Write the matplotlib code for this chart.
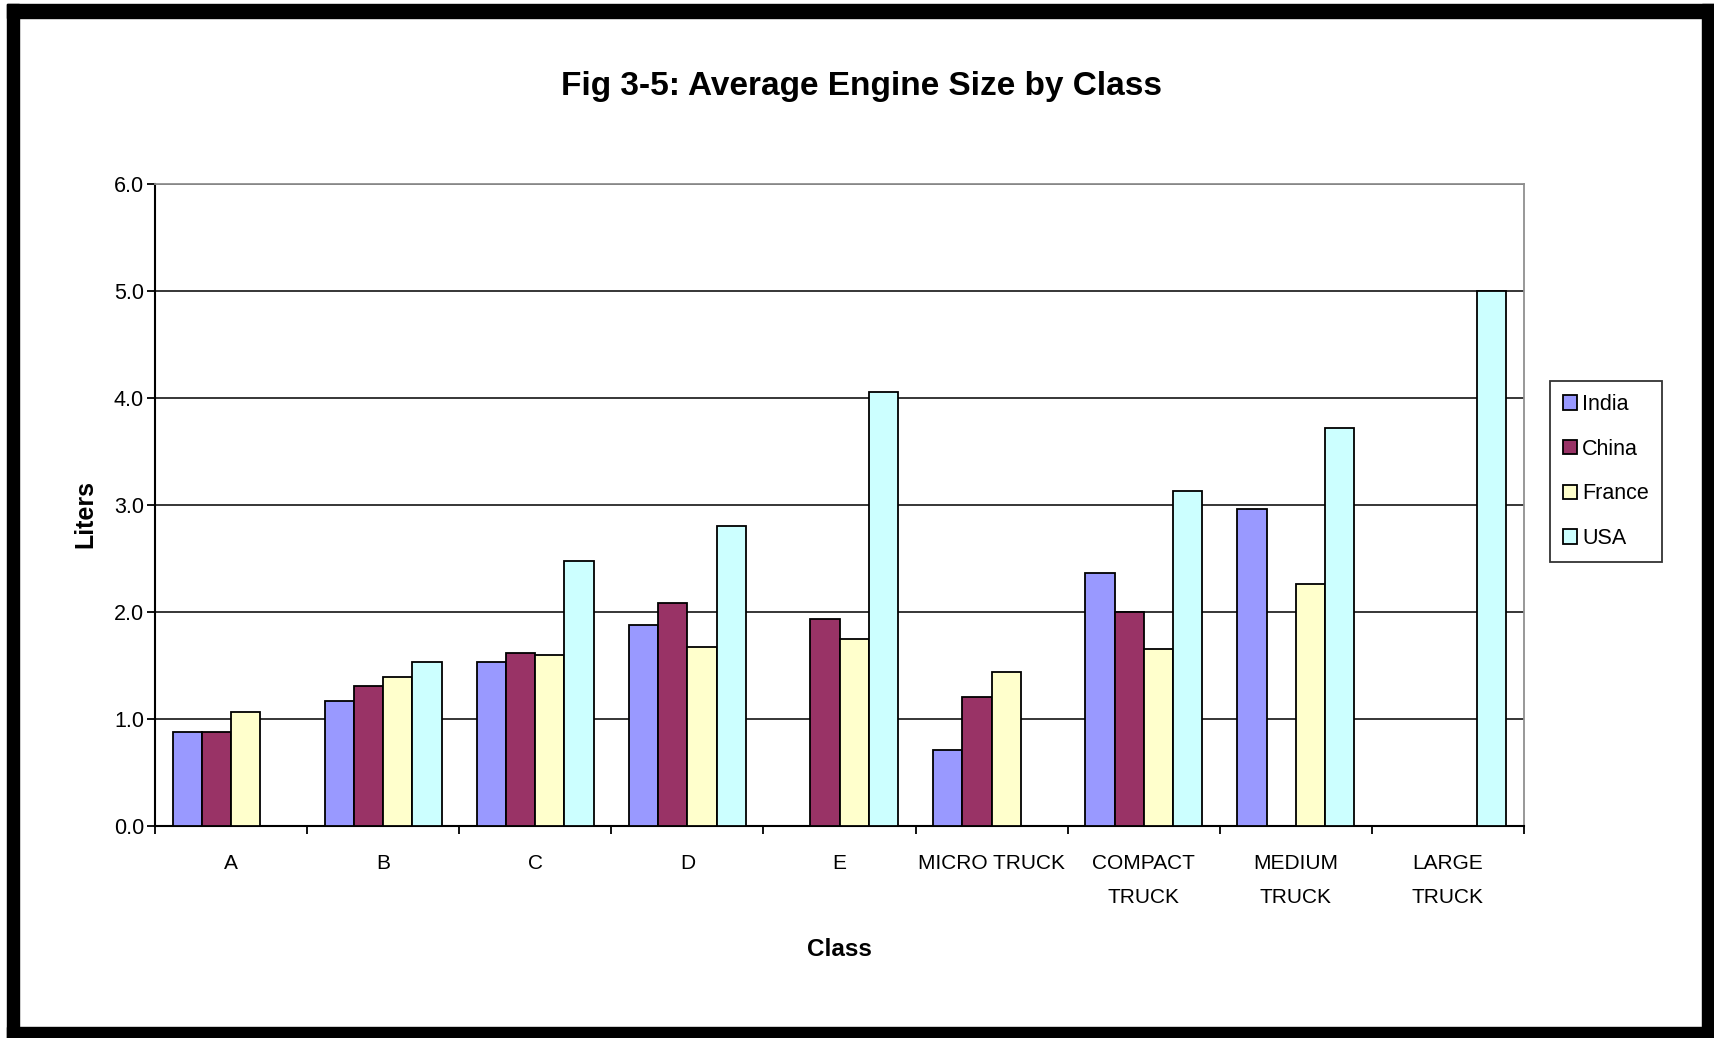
import numpy as np
import matplotlib
matplotlib.use("Agg")
import matplotlib.pyplot as plt
from matplotlib import font_manager
from matplotlib.patches import Rectangle

# ─── Data ─────────────────────────────────────────────────────────────────────

classes = ["A", "B", "C", "D", "E", "MICRO TRUCK", "COMPACT\nTRUCK",
           "MEDIUM\nTRUCK", "LARGE\nTRUCK"]
series = ["India", "China", "France", "USA"]

india  = [0.88, 1.17, 1.53, 1.88, None, 0.71, 2.36, 2.96, None]
china  = [0.88, 1.31, 1.62, 2.08, 1.93, 1.21, 2.00, None, None]
france = [1.07, 1.39, 1.60, 1.67, 1.75, 1.44, 1.65, 2.26, None]
usa    = [None, 1.53, 2.48, 2.80, 4.06, None, 3.13, 3.72, 5.00]

colors = ["#9999FF", "#993366", "#FFFFCC", "#CCFFFF"]
yticks = [0.0, 1.0, 2.0, 3.0, 4.0, 5.0, 6.0]

# ─── Font ─────────────────────────────────────────────────────────────────────

names = {f.name for f in font_manager.fontManager.ttflist}
FONT = "Liberation Sans Narrow" if "Liberation Sans Narrow" in names else "Liberation Sans"
plt.rcParams["font.family"] = [FONT, "DejaVu Sans"]

# ─── Figure ───────────────────────────────────────────────────────────────────

W, H = 1715, 1038
fig = plt.figure(figsize=(W / 100, H / 100), dpi=100)
fig.patch.set_facecolor("white")

# thick black frame round the picture
for x0, y0, w, h in [(7, 4, W - 7, 14), (7, 4, 12, H - 4),
                     (1702, 4, 13, H - 4), (7, 1027, W - 7, 11)]:
    fig.patches.append(Rectangle((x0 / W, 1 - (y0 + h) / H), w / W, h / H,
                                 transform=fig.transFigure, color="black",
                                 zorder=0))

L, R, T, B = 155, 1524, 184, 826
ax = fig.add_axes([L / W, 1 - B / H, (R - L) / W, (B - T) / H])

x = np.arange(len(classes))
bw = 0.192
for i, (name, vals) in enumerate(zip(series, [india, china, france, usa])):
    xs = [xi + (i - 1.5) * bw for xi, v in zip(x, vals) if v is not None]
    hs = [v for v in vals if v is not None]
    ax.bar(xs, hs, width=bw, color=colors[i], edgecolor="black",
           linewidth=1.3, label=name, zorder=3)

ax.set_xlim(-0.5, len(classes) - 0.5)
ax.set_ylim(0, 6.0)
ax.set_yticks(yticks)
ax.set_yticklabels([f"{t:.1f}" for t in yticks], fontsize=15.5)
ax.set_xticks(x)
ax.set_xticklabels(classes, fontsize=15, linespacing=2.0, va="top")
ax.set_xticks(np.arange(-0.5, len(classes)), minor=True)
ax.tick_params(axis="x", which="major", length=0, pad=20)
ax.tick_params(axis="x", which="minor", length=6, width=1.3, direction="out")
ax.tick_params(axis="y", length=6, width=1.3, direction="out", pad=2)

ax.yaxis.grid(True, color="black", linewidth=1.1, zorder=0)
ax.set_axisbelow(True)
for s in ["left", "bottom"]:
    ax.spines[s].set_color("black")
    ax.spines[s].set_linewidth(1.5)
for s in ["top", "right"]:
    ax.spines[s].set_color("#909090")
    ax.spines[s].set_linewidth(1.3)

fig.text(862 / W, 1 - 86 / H, "Fig 3-5: Average Engine Size by Class",
         ha="center", va="center", fontsize=24, fontweight="bold")
fig.text((L + R) / 2 / W, 1 - 950 / H, "Class", ha="center", va="center",
         fontsize=17.5, fontweight="bold")
fig.text(85 / W, 1 - 514 / H, "Liters", ha="center", va="center",
         fontsize=18, fontweight="bold", rotation=90)

leg = fig.legend(loc="upper left", bbox_to_anchor=(1550 / W, 1 - 381 / H),
                 borderaxespad=0, frameon=True, fancybox=False, fontsize=15.5,
                 handlelength=0.65, handleheight=0.65, handletextpad=0.25,
                 labelspacing=1.1, borderpad=0.6)
leg.get_frame().set_edgecolor("black")
leg.get_frame().set_linewidth(1.3)

fig.savefig("out.png", dpi=100, facecolor="white")
